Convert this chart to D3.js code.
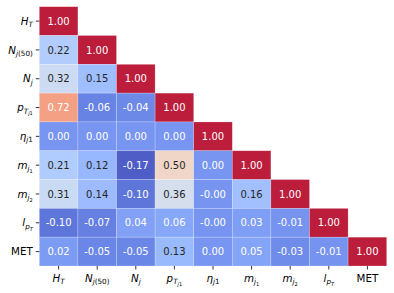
<!DOCTYPE html>
<html>
<head>
<meta charset="utf-8">
<script src="https://cdn.jsdelivr.net/npm/d3@7"></script>
<style>
  body { margin: 0; background: #fff; }
  svg { display: block; font-family: "DejaVu Sans", sans-serif; }
</style>
</head>
<body>
<svg id="chart" width="394" height="293"></svg>
<script>
// tick labels (matplotlib style mathtext)
const labels = ["$H_T$", "$N_{j(50)}$", "$N_j$", "$p_{T_{j1}}$", "$\\eta_{j1}$", "$m_{j_1}$", "$m_{j_2}$", "$l_{p_T}$", "MET"];

// lower triangle of the correlation matrix, row by row
const row0 = [1.00];
const row1 = [0.22, 1.00];
const row2 = [0.32, 0.15, 1.00];
const row3 = [0.72, -0.06, -0.04, 1.00];
const row4 = [0.00, 0.00, 0.00, 0.00, 1.00];
const row5 = [0.21, 0.12, -0.17, 0.50, 0.00, 1.00];
const row6 = [0.31, 0.14, -0.10, 0.36, -0.002, 0.16, 1.00];
const row7 = [-0.10, -0.07, 0.04, 0.06, -0.002, 0.03, -0.01, 1.00];
const row8 = [0.02, -0.05, -0.05, 0.13, 0.00, 0.05, -0.03, -0.01, 1.00];
const rows = [row0, row1, row2, row3, row4, row5, row6, row7, row8];

// coolwarm colormap (Moreland)
const cwStops = [
  [59,76,192],[68,90,204],[77,104,215],[87,117,225],[98,130,234],[108,142,241],[119,154,247],[130,165,251],
  [141,176,254],[152,185,255],[163,194,255],[174,201,253],[184,208,249],[194,213,244],[204,217,238],[213,219,230],
  [221,221,221],[229,216,209],[236,211,197],[241,204,185],[245,196,173],[247,187,160],[247,177,148],[247,166,135],
  [244,154,123],[241,141,111],[236,127,99],[229,112,88],[222,96,77],[213,80,66],[203,62,56],[192,40,47],[180,4,38]
];
const coolwarm = d3.scaleLinear()
  .domain(cwStops.map((d, i) => i / (cwStops.length - 1)))
  .range(cwStops.map(c => d3.rgb(c[0], c[1], c[2])))
  .interpolate(d3.interpolateRgb)
  .clamp(true);

const cells = [];
rows.forEach((r, i) => r.forEach((v, j) => cells.push({ row: labels[i], col: labels[j], value: v })));

const vmin = d3.min(cells, d => d.value);
const vmax = d3.max(cells, d => d.value);
const norm = d3.scaleLinear().domain([vmin, vmax]).range([0, 1]);

const svg = d3.select("#chart");
const mLeft = 39.3, mRight = 386.7, mTop = 6.7, mBottom = 266;

const x = d3.scaleBand().domain(labels).range([mLeft, mRight]);
const y = d3.scaleBand().domain(labels).range([mTop, mBottom]);

function lum(c) {
  const f = v => { v /= 255; return v <= 0.03928 ? v / 12.92 : Math.pow((v + 0.055) / 1.055, 2.4); };
  return 0.2126 * f(c.r) + 0.7152 * f(c.g) + 0.0722 * f(c.b);
}

const g = svg.append("g");
g.selectAll("rect")
  .data(cells)
  .join("rect")
  .attr("x", d => x(d.col))
  .attr("y", d => y(d.row))
  .attr("width", x.bandwidth())
  .attr("height", y.bandwidth())
  .attr("fill", d => coolwarm(norm(d.value)))
  .attr("fill-opacity", 0.9)
  .attr("stroke", "#fff")
  .attr("stroke-opacity", 0.35)
  .attr("stroke-width", 0.6);

g.selectAll("text")
  .data(cells)
  .join("text")
  .attr("x", d => x(d.col) + x.bandwidth() / 2)
  .attr("y", d => y(d.row) + y.bandwidth() / 2 + 3.6)
  .attr("text-anchor", "middle")
  .attr("font-size", 10)
  .attr("fill", d => lum(d3.rgb(coolwarm(norm(d.value)))) > 0.425 ? "#262626" : "#fff")
  .text(d => d.value.toFixed(2));

// mathtext-ish label parser
function parseMath(s, lvl, out) {
  let i = 0;
  while (i < s.length) {
    const c = s[i];
    if (c === "\\") {
      let j = i + 1;
      while (j < s.length && /[a-z]/i.test(s[j])) j++;
      const cmd = s.slice(i + 1, j);
      out.push({ t: cmd === "eta" ? "\u03b7" : cmd, lvl, it: true });
      i = j;
    } else if (c === "_") {
      i++;
      if (s[i] === "{") {
        let depth = 1, j = i + 1;
        while (depth > 0) { if (s[j] === "{") depth++; if (s[j] === "}") depth--; j++; }
        parseMath(s.slice(i + 1, j - 1), lvl + 1, out);
        i = j;
      } else {
        parseMath(s[i], lvl + 1, out);
        i++;
      }
    } else {
      out.push({ t: c, lvl, it: /[A-Za-z]/.test(c) });
      i++;
    }
  }
  return out;
}

function setLabel(sel, label, size) {
  sel.text(null);
  let segs;
  if (label.startsWith("$")) segs = parseMath(label.slice(1, -1), 0, []);
  else segs = [{ t: label, lvl: 0, it: false }];
  const shift = [0, 2.4, 4.3];
  let cur = 0;
  segs.forEach(s => {
    const off = shift[s.lvl];
    sel.append("tspan")
      .attr("dy", off - cur)
      .attr("font-size", size * Math.pow(0.7, s.lvl))
      .attr("font-style", s.it ? "italic" : "normal")
      .text(s.t);
    cur = off;
  });
}

const labelSize = 10.3;

const xAxis = svg.append("g")
  .attr("transform", `translate(0,${mBottom})`)
  .call(d3.axisBottom(x).tickSize(3.5).tickPadding(2));
const yAxis = svg.append("g")
  .attr("transform", `translate(${mLeft},0)`)
  .call(d3.axisLeft(y).tickSize(3.5).tickPadding(3));

[xAxis, yAxis].forEach(ax => {
  ax.select(".domain").remove();
  ax.selectAll(".tick line").attr("stroke", "#000").attr("stroke-width", 0.8);
  ax.attr("font-family", null).attr("font-size", null);
});

xAxis.selectAll(".tick text")
  .attr("fill", "#000")
  .attr("dy", null)
  .attr("y", 16)
  .each(function(d) { setLabel(d3.select(this), d, labelSize); });

yAxis.selectAll(".tick text")
  .attr("fill", "#000")
  .attr("dy", null)
  .attr("y", 3.6)
  .each(function(d) { setLabel(d3.select(this), d, labelSize); });
</script>
</body>
</html>
